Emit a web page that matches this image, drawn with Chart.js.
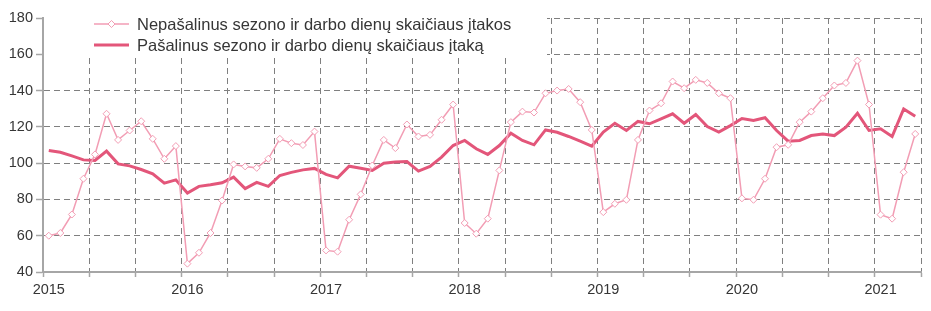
<!DOCTYPE html>
<html>
<head>
<meta charset="utf-8">
<script src="https://cdn.jsdelivr.net/npm/chart.js@4/dist/chart.umd.min.js"></script>
<style>
  html, body { margin: 0; padding: 0; background: #fff; }
  #wrap { width: 931px; height: 311px; position: relative; }
</style>
</head>
<body>
<div id="wrap"><canvas id="c"></canvas></div>
<script>
// monthly, Jan 2015 .. Apr 2021
const years = ['2015', '2016', '2017', '2018', '2019', '2020', '2021'];
const months = [];
years.forEach(y => { for (let m = 1; m <= 12; m++) months.push(y + '-' + String(m).padStart(2, '0')); });
months.length = 76;

const unadjusted = [
  60, 61.5, 71.7, 91.4, 104.8, 127.2, 112.8, 118, 123.1, 113.4, 102.4, 109.4,
  44.6, 50.6, 61.5, 79.4, 99.3, 98.2, 97.4, 102.4, 113.4, 111, 110, 117.4,
  51.9, 51.2, 68.8, 82.8, 98.7, 112.8, 108.3, 121.3, 114.7, 115.6, 123.9, 132.3,
  67, 61.1, 69.4, 96, 122.6, 128.4, 127.9, 138.5, 140, 140.9, 133.6, 118.3,
  73, 77.6, 79.8, 112.8, 129, 133, 145, 141.3, 145.9, 144.2, 138.5, 135.8,
  80.6, 79.8, 91.4, 108.8, 110.1, 122.6, 128.4, 135.8, 142.8, 144.2, 156.5, 132.3,
  71.6, 69.4, 95, 116.1
];
const adjusted = [
  107, 106, 104, 101.8, 101.5, 106.6, 99.6, 98.5, 96.5, 94.1, 89, 90.8,
  83.5, 87.2, 88.1, 89.2, 92.3, 86, 89.4, 87.2, 93.2, 94.9, 96.3, 97.1,
  93.8, 91.9, 98.3, 97.2, 96, 100, 100.6, 100.9, 95.6, 98.2, 103.3, 109.7,
  112.5, 107.9, 104.8, 109.7, 116.5, 112.5, 110.1, 118.3, 117, 114.7, 112.1, 109.4,
  117.1, 122, 118, 123, 121.7, 124.4, 127.2, 122, 126.8, 120.2, 117.1, 120.7,
  124.6, 123.5, 125, 118, 112.1, 112.5, 115.2, 116.1, 115.2, 119.8, 127.5, 118,
  118.9, 114.7, 129.9, 125.9
];
const yTicks = [40, 60, 80, 100, 120, 140, 160, 180];

const GRID = '#7f7f7f';
const AXIS = '#a6a6a6';
const TEXT = '#363636';
const LIGHT = '#f29db4';
const DARK = '#e3567a';
const FONT = '"Liberation Sans", Arial, sans-serif';

// legend sits inside the plot on a white box (covers the grid there)
const boxLegend = {
  id: 'boxLegend',
  beforeDatasetsDraw(chart) {
    const { ctx, chartArea } = chart;
    ctx.save();
    ctx.fillStyle = '#fff';
    ctx.fillRect(chartArea.left + 1, 0, 546 - chartArea.left, 57);
    ctx.font = '16.5px ' + FONT;
    ctx.textBaseline = 'middle';
    ctx.fillStyle = TEXT;
    const rows = [{ y: 24, ds: chart.data.datasets[0] }, { y: 45, ds: chart.data.datasets[1] }];
    rows.forEach(({ y, ds }) => {
      ctx.strokeStyle = ds.borderColor;
      ctx.lineWidth = ds.borderWidth;
      ctx.beginPath();
      ctx.moveTo(94, y);
      ctx.lineTo(129, y);
      ctx.stroke();
      if (ds.pointRadius) {
        ctx.lineWidth = 1;
        ctx.fillStyle = '#fff';
        ctx.beginPath();
        ctx.moveTo(111.5, y - 3.5); ctx.lineTo(115, y); ctx.lineTo(111.5, y + 3.5); ctx.lineTo(108, y);
        ctx.closePath();
        ctx.fill(); ctx.stroke();
        ctx.fillStyle = TEXT;
      }
      ctx.fillText(ds.label, 137, y + 1);
    });
    ctx.restore();
  }
};

new Chart(document.getElementById('c'), {
  type: 'line',
  data: {
    labels: months,
    datasets: [
      {
        label: 'Nepašalinus sezono ir darbo dienų skaičiaus įtakos',
        data: unadjusted,
        borderColor: LIGHT, borderWidth: 1.5,
        pointStyle: 'rectRot', pointRadius: 3.5, pointBorderWidth: 1,
        pointBackgroundColor: '#fff', pointBorderColor: LIGHT,
        tension: 0
      },
      {
        label: 'Pašalinus sezono ir darbo dienų skaičiaus įtaką',
        data: adjusted,
        borderColor: DARK, borderWidth: 3,
        pointRadius: 0, tension: 0
      }
    ]
  },
  options: {
    responsive: true, maintainAspectRatio: false, animation: false,
    layout: { padding: { top: 18, right: 10, left: 0, bottom: 0 } },
    plugins: { legend: { display: false }, tooltip: { enabled: false } },
    scales: {
      x: {
        offset: true,
        afterFit: s => { s.height = 39; },
        grid: {
          offset: true,
          color: c => (c.index === undefined || (c.index > 0 && c.index % 4 === 0)) ? GRID : 'rgba(0,0,0,0)',
          tickColor: c => (c.index === undefined || c.index % 4 === 0) ? AXIS : 'rgba(0,0,0,0)',
          lineWidth: 1, tickLength: 5, tickWidth: 1.5
        },
        border: { color: AXIS, width: 2, dash: [6, 4] },
        ticks: {
          autoSkip: false, maxRotation: 0, padding: 4,
          color: TEXT, font: { family: FONT, size: 14.5 },
          callback: (v, i) => (i % 12 === 0 ? years[i / 12] : '')
        }
      },
      y: {
        min: 40, max: 180,
        afterFit: s => { s.width = 43; },
        afterBuildTicks: s => { s.ticks = yTicks.map(v => ({ value: v })); },
        grid: {
          color: c => (c.tick && c.tick.value === 40) ? 'rgba(0,0,0,0)' : GRID,
          tickColor: AXIS, lineWidth: 1, tickLength: 7, tickWidth: 1.5
        },
        border: { color: AXIS, width: 2, dash: [6, 4] },
        ticks: {
          padding: 3, color: TEXT,
          font: { family: FONT, size: 14.5 }
        }
      }
    }
  },
  plugins: [boxLegend]
});
</script>
</body>
</html>
